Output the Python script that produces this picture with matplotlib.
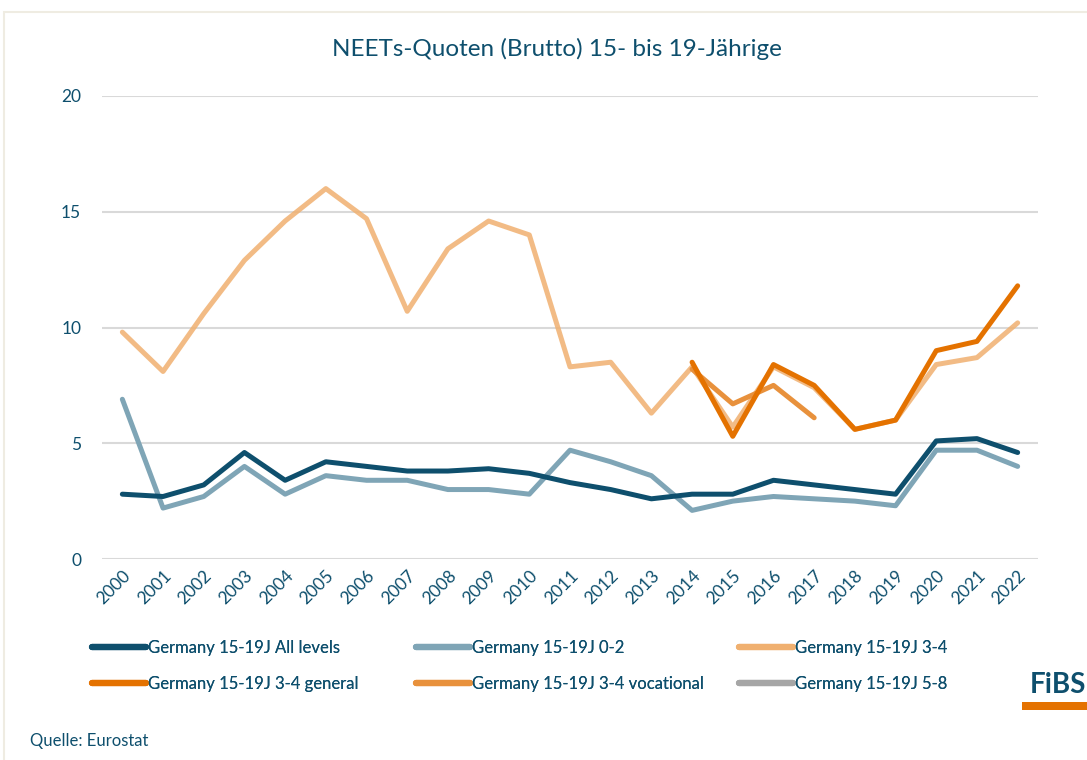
import matplotlib
matplotlib.use("Agg")
import matplotlib.pyplot as plt
from matplotlib.lines import Line2D
from matplotlib.patches import Rectangle

plt.rcParams['font.family'] = ['Lato', 'DejaVu Sans']

years = list(range(2000, 2023))
all_levels = [2.8, 2.7, 3.2, 4.6, 3.4, 4.2, 4.0, 3.8, 3.8, 3.9, 3.7, 3.3, 3.0, 2.6,
              2.8, 2.8, 3.4, 3.2, 3.0, 2.8, 5.1, 5.2, 4.6]
lvl_0_2 = [6.9, 2.2, 2.7, 4.0, 2.8, 3.6, 3.4, 3.4, 3.0, 3.0, 2.8, 4.7, 4.2, 3.6,
           2.1, 2.5, 2.7, 2.6, 2.5, 2.3, 4.7, 4.7, 4.0]
lvl_3_4 = [9.8, 8.1, 10.6, 12.9, 14.6, 16.0, 14.7, 10.7, 13.4, 14.6, 14.0, 8.3, 8.5, 6.3,
           8.3, 5.7, 8.3, 7.4, 5.6, 6.0, 8.4, 8.7, 10.2]
years_gen = list(range(2014, 2023))
lvl_3_4_gen = [8.5, 5.3, 8.4, 7.5, 5.6, 6.0, 9.0, 9.4, 11.8]
years_voc = list(range(2014, 2018))
lvl_3_4_voc = [8.2, 6.7, 7.5, 6.1]
years_5_8 = []
lvl_5_8 = []

labels = ["Germany 15-19J All levels", "Germany 15-19J 0-2", "Germany 15-19J 3-4",
          "Germany 15-19J 3-4 general", "Germany 15-19J 3-4 vocational", "Germany 15-19J 5-8"]
yticks = [0, 5, 10, 15, 20]

c_all = "#0e4f6d"
c_02 = "#7fa5b6"
c_34 = "#f0b070"
c_gen = "#e47200"
c_voc = "#e8913c"
c_58 = "#a6a6a6"
colors = [c_all, c_02, c_34, c_gen, c_voc, c_58]
txt = "#0e4f6d"

fig = plt.figure(figsize=(10.87, 7.6), dpi=100)
fig.patch.set_facecolor("white")
# outer frame
fig.add_artist(Rectangle((4/1087, -0.1), 1.2, 1 - 12/760 + 0.1, transform=fig.transFigure,
                         fill=False, edgecolor="#efece2", linewidth=1.5))

ax = fig.add_axes([102/1087, 1 - 559/760, 936/1087, 463/760])
for s in ax.spines.values():
    s.set_visible(False)
ax.set_ylim(0, 20)
ax.set_xlim(1999.5, 2022.5)
ax.set_yticks(yticks)
ax.set_xticks(years)
ax.set_xticklabels([str(y) for y in years], rotation=45, ha="right", rotation_mode="anchor")
ax.tick_params(length=0, colors=txt, labelsize=12.5)
ax.tick_params(axis="y", pad=15)
ax.tick_params(axis="x", pad=6)
ax.grid(axis="y", color="#d9d9d9", linewidth=1.5)
ax.set_axisbelow(True)

lw = 3.6
ax.plot(years, lvl_3_4, color=c_34, lw=lw, alpha=0.85, solid_capstyle="round", label=labels[2], zorder=3)
ax.plot(years_voc, lvl_3_4_voc, color=c_voc, lw=lw, solid_capstyle="round", label=labels[4], zorder=4)
ax.plot(years_gen, lvl_3_4_gen, color=c_gen, lw=lw, solid_capstyle="round", label=labels[3], zorder=5)
ax.plot(years, lvl_0_2, color=c_02, lw=lw, solid_capstyle="round", label=labels[1], zorder=3)
ax.plot(years, all_levels, color=c_all, lw=lw, solid_capstyle="round", label=labels[0], zorder=4)
ax.plot(years_5_8, lvl_5_8, color=c_58, lw=lw, label=labels[5])

fig.text(557/1087, 1 - 49/760, "NEETs-Quoten (Brutto) 15- bis 19-Jährige", ha="center", va="center",
         color=txt, fontsize=17.5)

# legend: three fixed columns, two rows each
col_x = [79, 403, 726]
for ci in range(3):
    idx = [ci, ci + 3]
    hs = [Line2D([], [], color=colors[i], lw=4.5, solid_capstyle="round") for i in idx]
    leg = fig.legend(hs, [labels[i] for i in idx], ncol=1, loc="upper left",
                     bbox_to_anchor=(col_x[ci]/1087, 1 - 627/760), frameon=False,
                     fontsize=12, handlelength=3.2, handletextpad=0.15,
                     labelspacing=1.2, labelcolor=txt, borderpad=0.3)
    fig.add_artist(leg)

fig.text(30/1087, 1 - 741/760, "Quelle: Eurostat", ha="left", va="center", color=txt, fontsize=12)

# FiBS logo
fig.text(1030/1087, 1 - 685/760, "FiBS", ha="left", va="center", color=c_all,
         fontsize=20, fontweight="bold")
fig.add_artist(Rectangle((1022/1087, 1 - 710/760), 0.2, 8/760, transform=fig.transFigure,
                         facecolor=c_gen, edgecolor="none"))

fig.savefig("out.png", dpi=100)
